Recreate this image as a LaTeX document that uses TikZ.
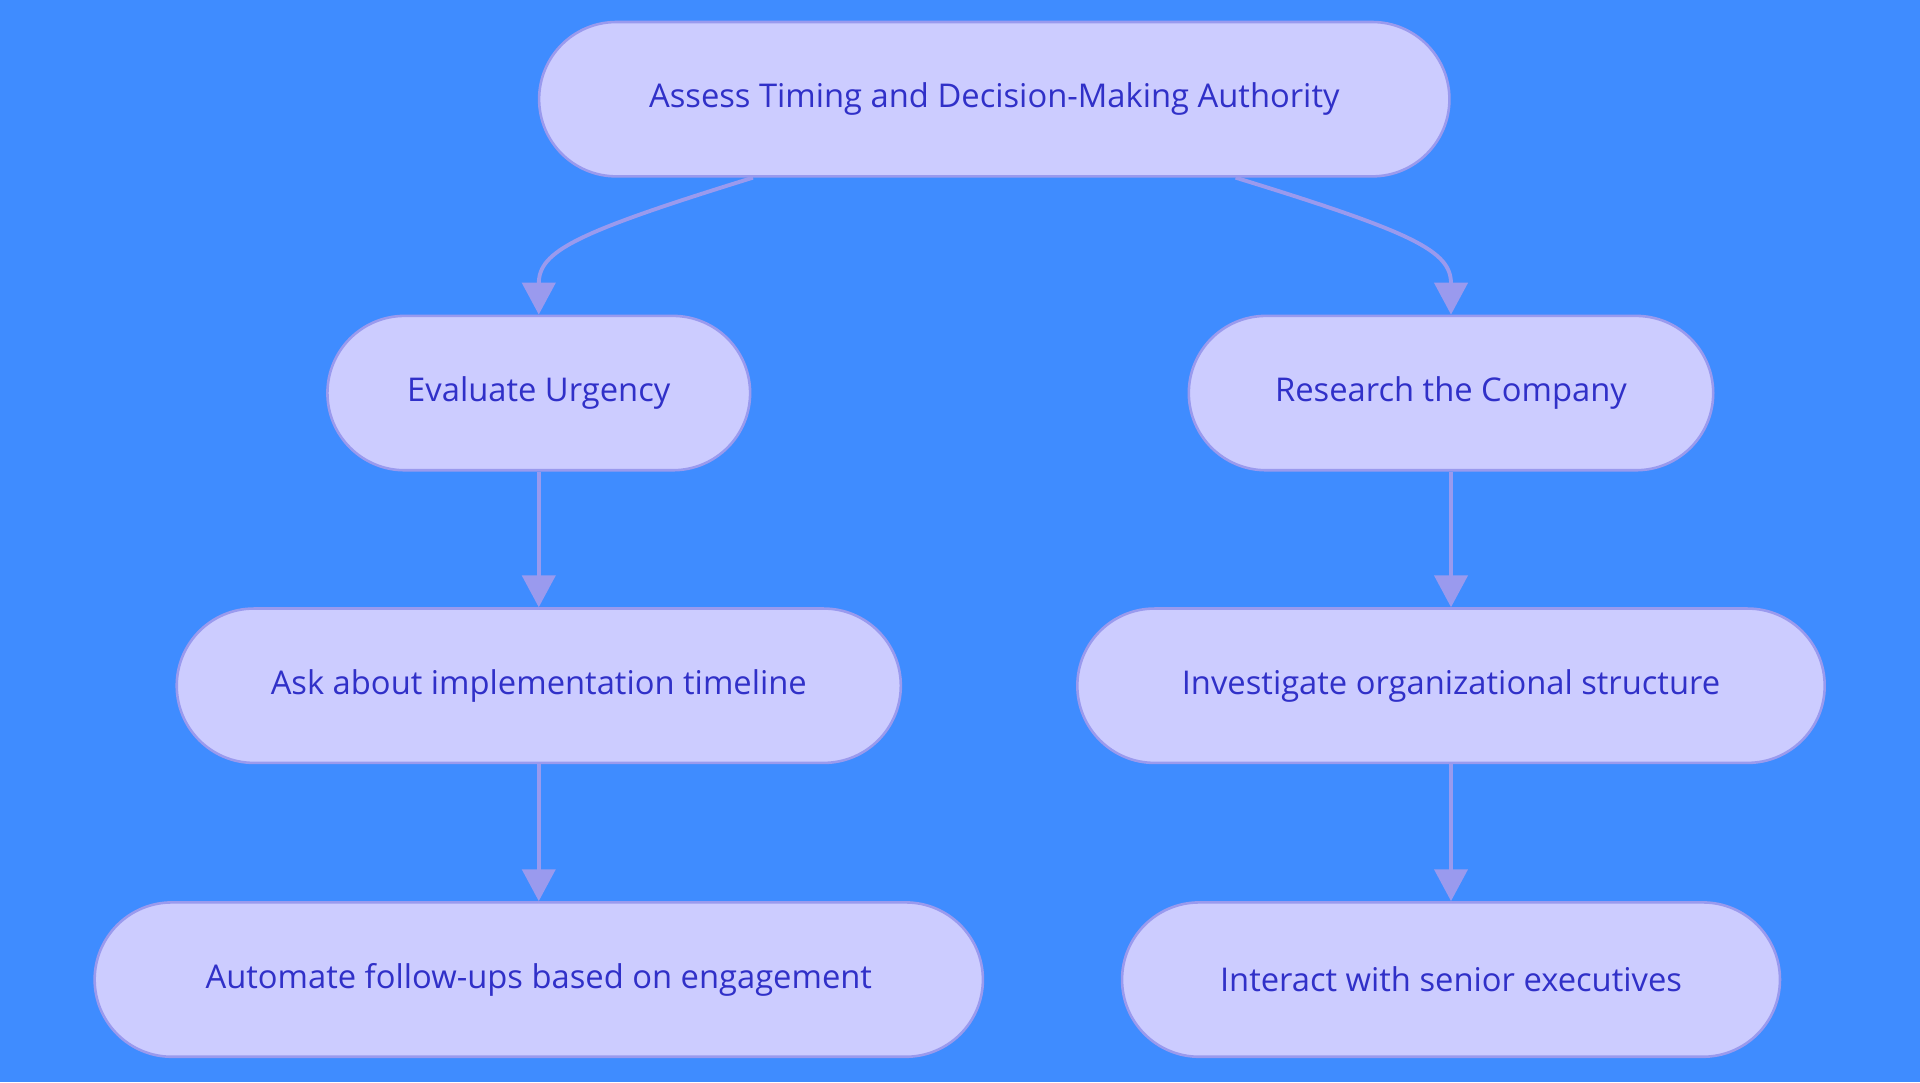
\documentclass[tikz,border=0pt]{standalone}
\usepackage{fontspec}
\setmainfont{Open Sans}
\usetikzlibrary{arrows.meta}
\definecolor{bgblue}{HTML}{3F8CFF}
\definecolor{boxfill}{HTML}{CCCCFF}
\definecolor{boxline}{HTML}{9A9AEE}
\definecolor{boxtext}{HTML}{3030C8}
\tikzset{every node/.style={font=\fontsize{7.6pt}{9pt}\selectfont}}
\tikzset{pill/.style={draw=boxline,line width=0.6pt,fill=boxfill,text=boxtext,rounded corners=0.63cm,minimum height=1.26cm,inner sep=0pt}}
\tikzset{link/.style={draw=boxline,line width=0.9pt,-{Triangle[width=0.27cm,length=0.26cm]}}}
\begin{document}
\begin{tikzpicture}[x=0.01cm,y=-0.01cm]
            \fill[bgblue] (0,0) rectangle (1568,884);
            \node[pill,minimum width=7.43cm] (assess) at (812,81) {Assess Timing and Decision-Making Authority};
            \node[pill,minimum width=3.45cm] (urgency) at (440,321) {Evaluate Urgency};
            \node[pill,minimum width=4.28cm] (research) at (1185,321) {Research the Company};
            \node[pill,minimum width=5.91cm] (timeline) at (440,560) {Ask about implementation timeline};
            \node[pill,minimum width=6.10cm] (structure) at (1185,560) {Investigate organizational structure};
            \node[pill,minimum width=7.25cm] (automate) at (440,800) {Automate follow-ups based on engagement};
            \node[pill,minimum width=5.37cm] (executives) at (1185,800) {Interact with senior executives};
            \draw[link] ([xshift=-1.97cm]assess.south) .. controls (470,190) and (440,205) .. (urgency.north);
            \draw[link] ([xshift=1.97cm]assess.south) .. controls (1155,190) and (1185,205) .. (research.north);
            \draw[link] (urgency) -- (timeline);
            \draw[link] (timeline) -- (automate);
            \draw[link] (research) -- (structure);
            \draw[link] (structure) -- (executives);
\end{tikzpicture}
\end{document}
